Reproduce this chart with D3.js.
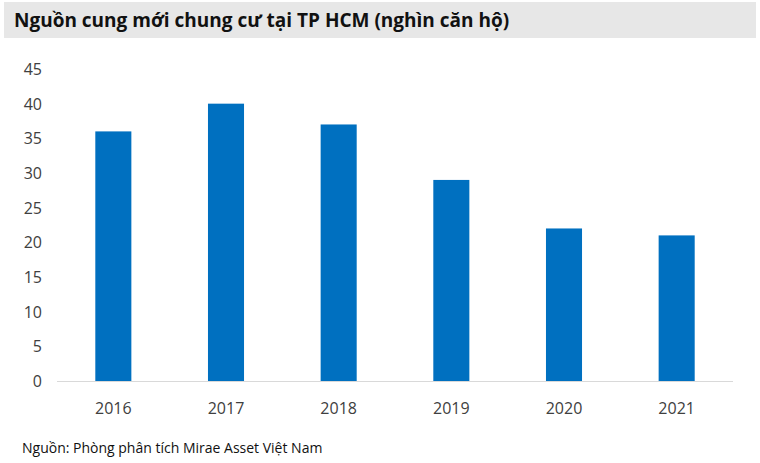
<!DOCTYPE html>
<html><head><meta charset="utf-8">
<script src="https://cdn.jsdelivr.net/npm/d3@7"></script>
<style>body{margin:0;background:#fff;font-family:"Open Sans",sans-serif}</style>
</head><body>
<script>
const years = ['2016', '2017', '2018', '2019', '2020', '2021'];
const supply = [36, 40, 37, 29, 22, 21];
const yTicks = [0, 5, 10, 15, 20, 25, 30, 35, 40, 45];

const svg = d3.select('body').append('svg').attr('width', 760).attr('height', 463);

// title band
svg.append('rect').attr('x', 4).attr('y', 2).attr('width', 752).attr('height', 36).attr('fill', '#e7e7e7');
svg.append('text').attr('x', 14).attr('y', 27).attr('font-size', 19).attr('font-weight', 'bold')
	.attr('fill', '#111').text('Nguồn cung mới chung cư tại TP HCM (nghìn căn hộ)');

const x = d3.scaleBand().domain(years).range([57, 733]).paddingInner(0.68).paddingOuter(0.34);
const y = d3.scaleLinear().domain([0, 45]).range([381, 69]);

svg.selectAll('.bar').data(supply).enter().append('rect')
	.attr('x', (d, i) => x(years[i]))
	.attr('y', d => y(d))
	.attr('width', x.bandwidth())
	.attr('height', d => y(0) - y(d))
	.attr('fill', '#0070c0');

svg.append('line').attr('x1', 57).attr('x2', 733).attr('y1', y(0) + 0.5).attr('y2', y(0) + 0.5)
	.attr('stroke', '#d9d9d9');

svg.selectAll('.yl').data(yTicks).enter().append('text')
	.attr('x', 42).attr('y', d => y(d) + 6).attr('text-anchor', 'end')
	.attr('font-size', 16).attr('fill', '#404040').text(d => d);

svg.selectAll('.xl').data(years).enter().append('text')
	.attr('x', d => x(d) + x.bandwidth() / 2).attr('y', 414).attr('text-anchor', 'middle')
	.attr('font-size', 16).attr('fill', '#404040').text(d => d);

svg.append('text').attr('x', 22).attr('y', 453).attr('font-size', 14).attr('fill', '#111')
	.text('Nguồn: Phòng phân tích Mirae Asset Việt Nam');
</script>
</body></html>
